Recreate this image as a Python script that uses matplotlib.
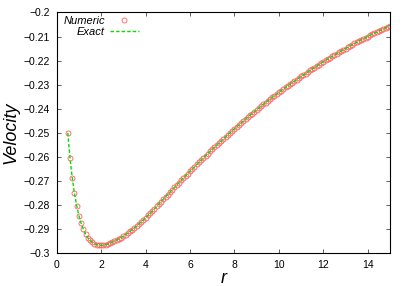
import matplotlib
matplotlib.use("Agg")
import matplotlib.pyplot as plt

# radial positions (step 0.1) and velocity
r = [
    0.5, 0.6, 0.7, 0.8, 0.9, 1.0, 1.1, 1.2, 1.3, 1.4,
    1.5, 1.6, 1.7, 1.8, 1.9, 2.0, 2.1, 2.2, 2.3, 2.4,
    2.5, 2.6, 2.7, 2.8, 2.9, 3.0, 3.1, 3.2, 3.3, 3.4,
    3.5, 3.6, 3.7, 3.8, 3.9, 4.0, 4.1, 4.2, 4.3, 4.4,
    4.5, 4.6, 4.7, 4.8, 4.9, 5.0, 5.1, 5.2, 5.3, 5.4,
    5.5, 5.6, 5.7, 5.8, 5.9, 6.0, 6.1, 6.2, 6.3, 6.4,
    6.5, 6.6, 6.7, 6.8, 6.9, 7.0, 7.1, 7.2, 7.3, 7.4,
    7.5, 7.6, 7.7, 7.8, 7.9, 8.0, 8.1, 8.2, 8.3, 8.4,
    8.5, 8.6, 8.7, 8.8, 8.9, 9.0, 9.1, 9.2, 9.3, 9.4,
    9.5, 9.6, 9.7, 9.8, 9.9, 10.0, 10.1, 10.2, 10.3, 10.4,
    10.5, 10.6, 10.7, 10.8, 10.9, 11.0, 11.1, 11.2, 11.3, 11.4,
    11.5, 11.6, 11.7, 11.8, 11.9, 12.0, 12.1, 12.2, 12.3, 12.4,
    12.5, 12.6, 12.7, 12.8, 12.9, 13.0, 13.1, 13.2, 13.3, 13.4,
    13.5, 13.6, 13.7, 13.8, 13.9, 14.0, 14.1, 14.2, 14.3, 14.4,
    14.5, 14.6, 14.7, 14.8, 14.9, 15.0,
]

numeric = [
    -0.2500, -0.2606, -0.2686, -0.2751, -0.2802, -0.2844, -0.2876, -0.2901, -0.2920, -0.2935,
    -0.2946, -0.2954, -0.2960, -0.2964, -0.2966, -0.2967, -0.2967, -0.2965, -0.2962, -0.2958,
    -0.2954, -0.2950, -0.2945, -0.2940, -0.2935, -0.2929, -0.2923, -0.2916, -0.2909, -0.2902,
    -0.2894, -0.2886, -0.2878, -0.2870, -0.2861, -0.2852, -0.2843, -0.2834, -0.2825, -0.2815,
    -0.2805, -0.2795, -0.2785, -0.2775, -0.2765, -0.2756, -0.2746, -0.2736, -0.2726, -0.2717,
    -0.2707, -0.2697, -0.2688, -0.2678, -0.2669, -0.2659, -0.2650, -0.2641, -0.2631, -0.2622,
    -0.2613, -0.2604, -0.2595, -0.2586, -0.2577, -0.2568, -0.2559, -0.2551, -0.2542, -0.2534,
    -0.2525, -0.2517, -0.2508, -0.2500, -0.2491, -0.2483, -0.2475, -0.2467, -0.2459, -0.2451,
    -0.2443, -0.2435, -0.2427, -0.2420, -0.2412, -0.2404, -0.2397, -0.2389, -0.2382, -0.2374,
    -0.2367, -0.2360, -0.2353, -0.2346, -0.2339, -0.2332, -0.2325, -0.2318, -0.2311, -0.2305,
    -0.2298, -0.2292, -0.2285, -0.2279, -0.2272, -0.2266, -0.2260, -0.2254, -0.2247, -0.2241,
    -0.2235, -0.2229, -0.2223, -0.2217, -0.2211, -0.2205, -0.2199, -0.2194, -0.2188, -0.2183,
    -0.2177, -0.2172, -0.2166, -0.2161, -0.2155, -0.2150, -0.2145, -0.2140, -0.2134, -0.2129,
    -0.2124, -0.2119, -0.2114, -0.2110, -0.2105, -0.2100, -0.2095, -0.2091, -0.2086, -0.2082,
    -0.2077, -0.2073, -0.2068, -0.2064, -0.2059, -0.2055,
]
# the exact solution sits on top of the numeric points at this resolution
exact = list(numeric)

x_ticks = [0, 2, 4, 6, 8, 10, 12, 14]
x_tick_labels = ["0", "2", "4", "6", "8", "10", "12", "14"]
y_ticks = [-0.3, -0.29, -0.28, -0.27, -0.26, -0.25, -0.24, -0.23, -0.22, -0.21, -0.2]
y_tick_labels = ["\u22120.3", "\u22120.29", "\u22120.28", "\u22120.27", "\u22120.26", "\u22120.25",
                 "\u22120.24", "\u22120.23", "\u22120.22", "\u22120.21", "\u22120.2"]

plt.rcParams["font.family"] = ["Liberation Sans", "DejaVu Sans"]

fig = plt.figure(figsize=(4.09, 2.86), dpi=100)
ax = fig.add_axes([0.1386, 0.1143, 0.8149, 0.8423])

ax.plot(r, numeric, linestyle="none", marker="o", markersize=3.6,
        markerfacecolor="none", markeredgecolor="#ff5a5a", markeredgewidth=0.6,
        label="Numeric")
ax.plot(r, exact, color="#00e000", linewidth=1.0, dashes=(2.5, 1.5), label="Exact")

ax.set_xlim(0, 15)
ax.set_ylim(-0.3, -0.2)
ax.set_xticks(x_ticks)
ax.set_xticklabels(x_tick_labels)
ax.set_yticks(y_ticks)
ax.set_yticklabels(y_tick_labels)
ax.tick_params(direction="in", length=3, width=0.6, color="#444444",
               top=True, right=True, labelsize=7.5, pad=5)
for s in ax.spines.values():
    s.set_linewidth(0.8)

ax.set_xlabel("r", fontsize=13, style="italic", labelpad=0)
ax.set_ylabel("Velocity", fontsize=13, style="italic", labelpad=3)

leg = ax.legend(loc="upper left", bbox_to_anchor=(0.02, 0.985), frameon=False,
                markerfirst=False, fontsize=8, handlelength=2.6, handletextpad=0.45,
                borderpad=0, borderaxespad=0, labelspacing=0.1)
texts = leg.get_texts()
for t in texts:
    t.set_style("italic")

# right-align legend texts like gnuplot (measure, shift, re-measure)
fig.canvas.draw()
rend = fig.canvas.get_renderer()
right0 = [t.get_window_extent(rend).x1 for t in texts]
target = max(right0)
trial = [target - x for x in right0]
for t, s in zip(texts, trial):
    t.set_position((s, 0))
fig.canvas.draw()
right1 = [t.get_window_extent(rend).x1 for t in texts]
for t, s, a, b in zip(texts, trial, right0, right1):
    moved = b - a
    if s > 0 and moved > 0:
        t.set_position((s * s / moved, 0))

fig.savefig("out.png", dpi=100)
